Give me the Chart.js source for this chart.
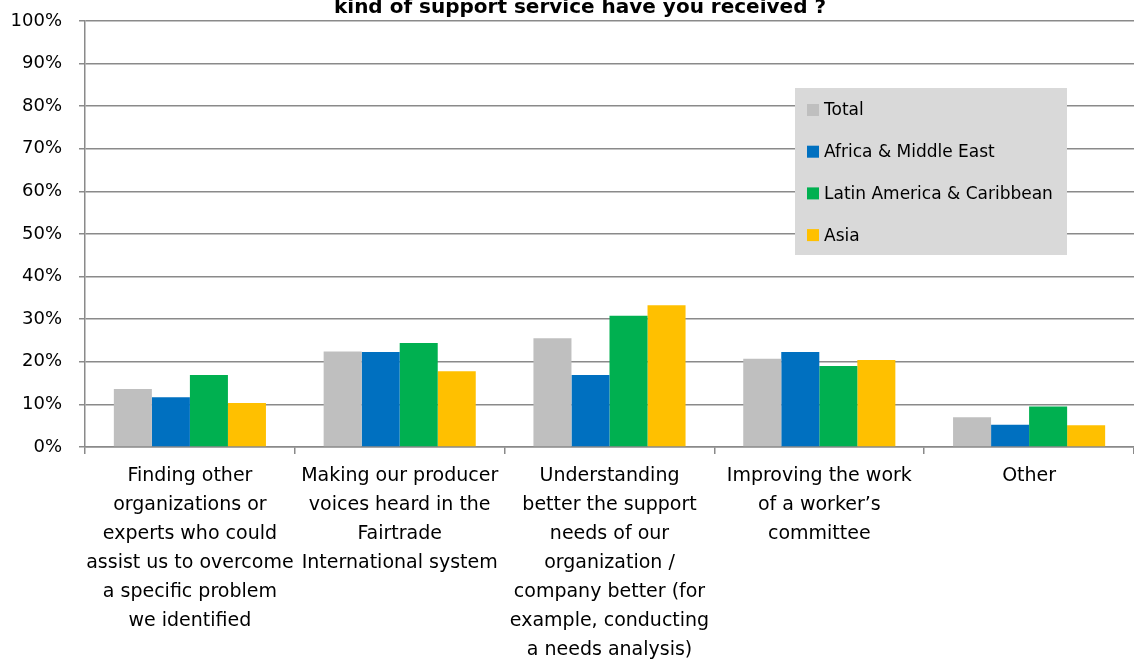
<!DOCTYPE html>
<html>
<head>
<meta charset="utf-8">
<script src="https://cdn.jsdelivr.net/npm/chart.js@4/dist/chart.umd.min.js"></script>
<style>
  html, body { margin: 0; padding: 0; background: #fff; }
  #wrap { width: 1134px; height: 661px; position: relative; }
</style>
</head>
<body>
<div id="wrap"><canvas id="chart" width="1134" height="661"></canvas></div>
<script>
// ─── DATA ─────────────────────────────────────────────────────
const categories = [
  ['Finding other', 'organizations or', 'experts who could', 'assist us to overcome', 'a specific problem', 'we identified'],
  ['Making our producer', 'voices heard in the', 'Fairtrade', 'International system'],
  ['Understanding', 'better the support', 'needs of our', 'organization /', 'company better (for', 'example, conducting', 'a needs analysis)'],
  ['Improving the work', 'of a worker\u2019s', 'committee'],
  ['Other']
];
const seriesNames = ['Total', 'Africa & Middle East', 'Latin America & Caribbean', 'Asia'];
const totalVals  = [0.136, 0.224, 0.255, 0.207, 0.070];
const africaVals = [0.117, 0.223, 0.169, 0.223, 0.052];
const latinVals  = [0.169, 0.244, 0.308, 0.190, 0.095];
const asiaVals   = [0.103, 0.178, 0.333, 0.204, 0.051];
const titleLine  = 'kind of support service have you received ?';

const colors = ['#BFBFBF', '#0070C0', '#00B050', '#FFC000'];
const FONT = "'DejaVu Sans', sans-serif";
const GRID = '#8a8a8a';

// ─── TITLE (only the lower line is inside the frame) ─────────
const titlePlugin = {
  id: 'titleLine',
  afterDraw(chart) {
    const { ctx } = chart;
    ctx.save();
    ctx.font = `bold 20px ${FONT}`;
    ctx.fillStyle = '#000';
    ctx.textAlign = 'center';
    ctx.textBaseline = 'alphabetic';
    ctx.fillText(titleLine, 580, 13);
    ctx.restore();
  }
};

// ─── LEGEND BOX inside the plot ──────────────────────────────
const legendBox = {
  id: 'legendBox',
  afterDraw(chart) {
    const { ctx } = chart;
    const x = 795, y = 88, w = 272, h = 167;
    ctx.save();
    ctx.fillStyle = '#D9D9D9';
    ctx.fillRect(x, y, w, h);
    ctx.font = `17px ${FONT}`;
    ctx.textBaseline = 'middle';
    chart.data.datasets.forEach((ds, i) => {
      const cy = y + 22 + i * 41.7;
      ctx.fillStyle = ds.backgroundColor;
      ctx.fillRect(x + 12, cy - 6, 12, 12);
      ctx.fillStyle = '#000';
      ctx.fillText(ds.label, x + 29, cy + 1);
    });
    ctx.restore();
  }
};

const seriesVals = [totalVals, africaVals, latinVals, asiaVals];

new Chart(document.getElementById('chart'), {
  type: 'bar',
  data: {
    labels: categories,
    datasets: seriesNames.map((name, i) => ({
      label: name,
      data: seriesVals[i],
      backgroundColor: colors[i],
      borderWidth: 0,
      barPercentage: 1,
      categoryPercentage: 0.725
    }))
  },
  options: {
    responsive: false,
    animation: false,
    layout: { padding: { top: 21, right: 0, left: 0, bottom: 0 } },
    plugins: {
      legend: { display: false },
      tooltip: { enabled: false },
      title: { display: false }
    },
    scales: {
      x: {
        afterFit(scale) { scale.height = 214; },
        grid: {
          offset: true,
          drawOnChartArea: false,
          drawTicks: true,
          tickLength: 7,
          color: GRID,
          lineWidth: 1.5
        },
        border: { color: GRID, width: 1.5 },
        ticks: {
          color: '#000',
          maxRotation: 0,
          autoSkip: false,
          padding: 8,
          font: { family: FONT, size: 19, lineHeight: 29 / 19 }
        }
      },
      y: {
        min: 0,
        max: 1,
        afterFit(scale) {
          scale.width = 85;
          scale.paddingTop = 0;
          scale.paddingBottom = 0;
        },
        grid: {
          color: GRID,
          lineWidth: 1.5,
          tickLength: 6
        },
        border: { color: GRID, width: 1.5 },
        ticks: {
          stepSize: 0.1,
          color: '#000',
          padding: 17,
          font: { family: FONT, size: 18 },
          callback: v => Math.round(v * 100) + '%'
        }
      }
    }
  },
  plugins: [titlePlugin, legendBox]
});
</script>
</body>
</html>
